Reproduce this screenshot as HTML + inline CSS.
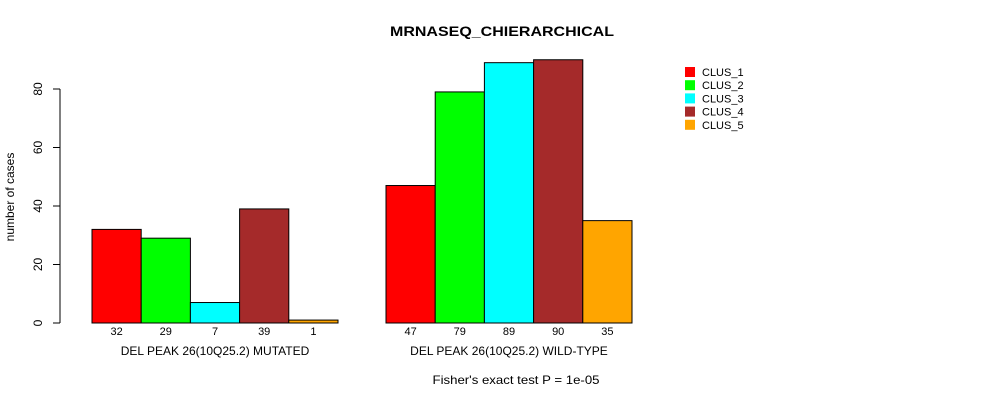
<!DOCTYPE html>
<html><head><meta charset="utf-8"><style>body{margin:0;background:#fff}svg{display:block;font-family:"Liberation Sans",sans-serif}</style></head>
<body>
<svg id="chart" width="990" height="400">
<text x="502" y="36" text-anchor="middle" font-size="14" font-weight="bold" textLength="224" lengthAdjust="spacingAndGlyphs">MRNASEQ_CHIERARCHICAL</text>
<text transform="translate(14,197) rotate(-90)" text-anchor="middle" font-size="12">number of cases</text>
<text x="516" y="384" text-anchor="middle" font-size="12" textLength="167" lengthAdjust="spacingAndGlyphs">Fisher's exact test P = 1e-05</text>
<g id="axis"></g><g id="bars"></g><g id="legend"></g>
</svg>
<script>
const groups = ["DEL PEAK 26(10Q25.2) MUTATED","DEL PEAK 26(10Q25.2) WILD-TYPE"];
const clusters = ["CLUS_1","CLUS_2","CLUS_3","CLUS_4","CLUS_5"];
const mutated = [32,29,7,39,1];
const wildtype = [47,79,89,90,35];
const yTicks = [0,20,40,60,80];
const colors = ["#ff0000","#00ff00","#00ffff","#a52a2a","#ffa500"];
const NS="http://www.w3.org/2000/svg";
const y0=323, k=2.925;
const y=v=>y0-v*k;
const groupStart=[92,386], bw=49.2;
function mk(t,a,p){const e=document.createElementNS(NS,t);for(const n in a)e.setAttribute(n,a[n]);p.appendChild(e);return e;}
const ax=document.getElementById('axis');
mk('line',{x1:60,x2:60,y1:y(0),y2:y(80),stroke:'#000'},ax);
yTicks.forEach(v=>{
 const l=mk('line',{x1:53,x2:60,y1:y(v),y2:y(v),stroke:'#000'},ax);
 
 
 const t=mk('text',{transform:`translate(42,${y(v)}) rotate(-90)`,'text-anchor':'middle','font-size':12},ax);
 t.textContent=v;
 
 
});
const bg=document.getElementById('bars');
[mutated,wildtype].forEach((vals,g)=>{
 vals.forEach((v,i)=>{
  const x=groupStart[g]+i*bw;
  const r=mk('rect',{x:x,y:y(v),width:bw,height:v*k,fill:colors[i],stroke:'#000','stroke-width':1},bg);
  
  
  const t=mk('text',{x:x+bw/2,y:335,'text-anchor':'middle','font-size':11},bg);
  t.textContent=v;
  
  
 });
 const gl=mk('text',{x:groupStart[g]+bw*2.5,y:355,'text-anchor':'middle','font-size':12},bg);
 gl.textContent=groups[g];
 
 
});
const lg=document.getElementById('legend');
clusters.forEach((c,i)=>{
 const yy=67+i*13.2;
 const r=mk('rect',{x:685,y:yy,width:10,height:10,fill:colors[i]},lg);
 
 
 const t=mk('text',{x:702,y:yy+9,'font-size':11},lg);
 t.textContent=c;
 
 
});
</script>
</body></html>
